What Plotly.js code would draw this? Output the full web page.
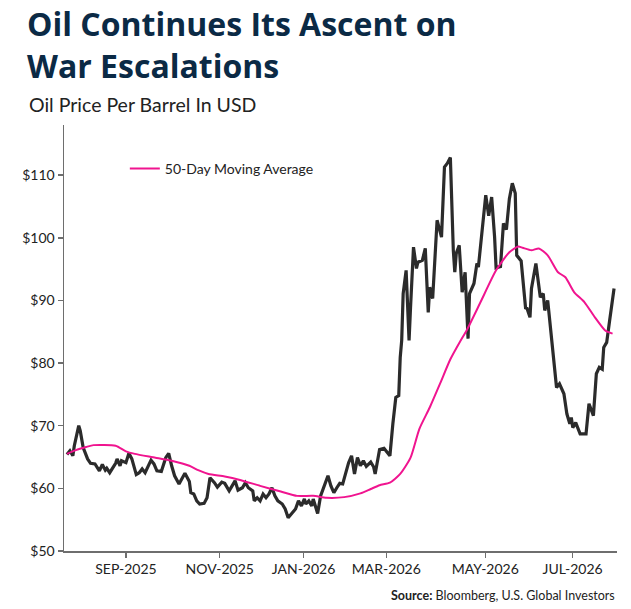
<!DOCTYPE html>
<html>
<head>
<meta charset="utf-8">
<script src="https://cdn.plot.ly/plotly-3.0.1.min.js"></script>
<style>
  html, body { margin: 0; padding: 0; background: #ffffff; }
  #chart { width: 631px; height: 609px; }
</style>
</head>
<body>
<div id="chart"></div>
<script>
// Daily oil price (USD per barrel)
const priceDates = [
  '2025-07-23','2025-07-25','2025-07-27','2025-07-28','2025-07-31','2025-08-01','2025-08-03','2025-08-06','2025-08-08','2025-08-11',
  '2025-08-14','2025-08-16','2025-08-18','2025-08-19','2025-08-21','2025-08-23','2025-08-25','2025-08-26','2025-08-28','2025-08-29',
  '2025-09-01','2025-09-03','2025-09-05','2025-09-08','2025-09-10','2025-09-12','2025-09-14','2025-09-18','2025-09-20','2025-09-22',
  '2025-09-25','2025-09-28','2025-09-30','2025-10-02','2025-10-04','2025-10-07','2025-10-09','2025-10-11','2025-10-14','2025-10-15',
  '2025-10-17','2025-10-19','2025-10-21','2025-10-24','2025-10-26','2025-10-28','2025-10-31','2025-11-02','2025-11-05','2025-11-07',
  '2025-11-10','2025-11-12','2025-11-14','2025-11-16','2025-11-19','2025-11-21','2025-11-23','2025-11-26','2025-11-27','2025-11-29',
  '2025-12-01','2025-12-03','2025-12-05','2025-12-07','2025-12-09','2025-12-11','2025-12-13','2025-12-16','2025-12-18','2025-12-20',
  '2025-12-23','2025-12-25','2025-12-27','2025-12-29','2025-12-31','2026-01-01','2026-01-03','2026-01-05','2026-01-06','2026-01-09',
  '2026-01-11','2026-01-13','2026-01-15','2026-01-16','2026-01-18','2026-01-20','2026-01-22','2026-01-24','2026-01-26','2026-01-28',
  '2026-01-30','2026-02-01','2026-02-03','2026-02-05','2026-02-07','2026-02-09','2026-02-11','2026-02-14','2026-02-16','2026-02-17',
  '2026-02-20','2026-02-23','2026-02-27','2026-03-01','2026-03-03','2026-03-05','2026-03-06','2026-03-07','2026-03-08','2026-03-10',
  '2026-03-12','2026-03-13','2026-03-15','2026-03-17','2026-03-18','2026-03-21','2026-03-23','2026-03-25','2026-03-26','2026-03-28',
  '2026-03-29','2026-03-31','2026-04-03','2026-04-05','2026-04-07','2026-04-09','2026-04-11','2026-04-12','2026-04-13','2026-04-15',
  '2026-04-17','2026-04-19','2026-04-21','2026-04-22','2026-04-25','2026-04-27','2026-04-28','2026-04-30','2026-05-03','2026-05-05',
  '2026-05-07','2026-05-09','2026-05-10','2026-05-13','2026-05-15','2026-05-17','2026-05-19','2026-05-21','2026-05-23','2026-05-24',
  '2026-05-27','2026-05-30','2026-05-31','2026-06-02','2026-06-03','2026-06-06','2026-06-09','2026-06-11','2026-06-12','2026-06-14',
  '2026-06-16','2026-06-18','2026-06-20','2026-06-22','2026-06-25','2026-06-27','2026-06-29','2026-06-30','2026-07-01','2026-07-03',
  '2026-07-06','2026-07-10','2026-07-12','2026-07-15','2026-07-17','2026-07-19','2026-07-21','2026-07-22','2026-07-24','2026-07-26',
  '2026-07-29'
];
const priceValues = [
  65.4, 66.0, 65.2, 66.8, 70.0, 69.2, 66.5, 64.7, 64.0, 63.9,
  62.8, 63.8, 62.9, 63.2, 62.5, 63.3, 64.0, 64.7, 63.6, 64.4,
  64.1, 65.6, 64.7, 62.2, 62.5, 63.1, 62.5, 64.5, 63.9, 62.8,
  62.7, 64.9, 65.6, 63.6, 62.0, 60.7, 61.5, 62.4, 61.1, 59.3,
  59.1, 58.0, 57.5, 57.6, 58.5, 61.7, 60.9, 60.2, 61.0, 60.8,
  59.6, 60.4, 61.2, 59.7, 60.1, 60.9, 60.1, 59.6, 58.0, 58.5,
  58.0, 59.1, 58.5, 59.1, 60.1, 58.8, 58.0, 57.5, 56.7, 55.3,
  56.1, 56.7, 58.0, 57.2, 58.3, 57.5, 58.0, 57.2, 58.3, 56.0,
  58.8, 60.1, 61.2, 62.0, 60.4, 59.3, 60.1, 60.8, 60.7, 62.3,
  64.1, 65.2, 62.3, 64.9, 63.6, 64.4, 63.5, 64.2, 63.4, 62.3,
  66.2, 66.4, 65.2, 70.3, 74.5, 74.8, 80.9, 83.6, 91.1, 94.8,
  83.6, 88.9, 98.5, 95.1, 96.1, 96.4, 98.3, 88.1, 92.1, 90.3,
  95.3, 102.8, 100.1, 111.3, 111.9, 112.8, 98.0, 94.5, 97.5, 98.8,
  91.3, 94.5, 83.9, 91.1, 92.7, 95.9, 95.3, 100.1, 106.8, 103.5,
  106.5, 100.1, 95.2, 95.4, 102.3, 101.3, 106.2, 108.7, 107.1, 97.2,
  96.3, 88.8, 88.7, 87.3, 91.9, 95.9, 90.5, 91.1, 88.4, 90.0,
  85.7, 80.4, 76.1, 76.7, 75.1, 71.9, 70.3, 71.3, 69.7, 70.5,
  68.7, 68.7, 73.5, 71.6, 78.3, 79.3, 79.0, 82.5, 83.3, 86.8,
  91.9
];

// 50-day moving average
const maDates = [
  '2025-07-23','2025-07-29','2025-08-05','2025-08-10','2025-08-25','2025-09-01','2025-09-07','2025-09-21','2025-10-02','2025-10-14',
  '2025-10-20','2025-10-27','2025-11-07','2025-11-18','2025-12-01','2025-12-15','2025-12-26','2026-01-06','2026-01-15','2026-01-27',
  '2026-02-07','2026-02-14','2026-02-20','2026-02-27','2026-03-06','2026-03-13','2026-03-19','2026-03-26','2026-04-02','2026-04-09',
  '2026-04-16','2026-04-20','2026-04-29','2026-05-10','2026-05-19','2026-05-25','2026-05-28','2026-06-03','2026-06-08','2026-06-14',
  '2026-06-21','2026-06-26','2026-07-02','2026-07-09','2026-07-16','2026-07-23','2026-07-28'
];
const maValues = [
  65.5, 66.1, 66.6, 66.9, 66.8, 65.9, 65.5, 64.9, 64.4, 63.6,
  62.9, 62.3, 61.9, 61.3, 60.4, 59.5, 58.8, 58.8, 58.5, 58.6,
  59.2, 59.9, 60.5, 60.9, 62.3, 64.9, 69.5, 72.9, 76.7, 80.6,
  83.6, 85.2, 89.5, 94.8, 97.7, 98.6, 98.4, 98.0, 98.3, 97.2,
  94.5, 93.7, 91.3, 89.7, 87.3, 85.2, 84.7
];

// Axis ticks
const xTickDates = ['2025-09-01','2025-11-03 14:00','2025-12-30 10:00','2026-02-24 14:00','2026-05-02 17:00','2026-06-30 22:00'];
const xTickLabels = ['SEP-2025','NOV-2025','JAN-2026','MAR-2026','MAY-2026','JUL-2026'];
const yTickValues = [50, 60, 70, 80, 90, 100, 110];
const yTickLabels = ['$50', '$60', '$70', '$80', '$90', '$100', '$110'];

const FONT = 'Lato, "Open Sans", Arial, sans-serif';
const TITLE_FONT = '"Open Sans", Lato, Arial, sans-serif';

const traces = [
  {
    type: 'scatter', mode: 'lines', name: 'Oil Price',
    x: priceDates, y: priceValues,
    line: { color: '#2b2b2b', width: 3.2 },
    showlegend: false
  },
  {
    type: 'scatter', mode: 'lines', name: '50-Day Moving Average',
    x: maDates, y: maValues,
    line: { color: '#f0148f', width: 2, shape: 'spline', smoothing: 0.6 },
    showlegend: true
  }
];

const layout = {
  width: 631, height: 609,
  paper_bgcolor: '#ffffff', plot_bgcolor: '#ffffff',
  margin: { l: 64, r: 14, t: 125, b: 58, pad: 0 },
  font: { family: FONT, color: '#222222', size: 14 },
  title: {
    text: '<b>Oil Continues Its Ascent on<br>War Escalations</b>',
    font: { family: TITLE_FONT, size: 32, color: '#0b2a45', weight: 800 },
    x: 27 / 631, xref: 'container', xanchor: 'left',
    y: 1 - 36 / 609, yref: 'container', yanchor: 'top',
    pad: { t: 0, b: 0, l: 0, r: 0 }
  },
  xaxis: {
    type: 'date',
    range: ['2025-07-21', '2026-07-31'],
    tickmode: 'array', tickvals: xTickDates, ticktext: xTickLabels,
    showgrid: false, zeroline: false,
    showline: true, linecolor: '#6e6e6e', linewidth: 1.5,
    ticks: 'outside', ticklen: 5, tickwidth: 1.5, tickcolor: '#6e6e6e',
    tickfont: { family: FONT, size: 14, color: '#222222' }
  },
  yaxis: {
    range: [50, 118],
    tickmode: 'array', tickvals: yTickValues, ticktext: yTickLabels,
    showgrid: false, zeroline: false,
    showline: true, linecolor: '#6e6e6e', linewidth: 1.5,
    ticks: 'outside', ticklen: 5, tickwidth: 1.5, tickcolor: '#6e6e6e',
    tickfont: { family: FONT, size: 14, color: '#222222' }
  },
  legend: {
    x: 0.11, y: 0.897, xanchor: 'left', yanchor: 'middle',
    bgcolor: 'rgba(0,0,0,0)', borderwidth: 0,
    font: { family: FONT, size: 14, color: '#222222' }
  },
  annotations: [
    {
      text: 'Oil Price Per Barrel In USD',
      xref: 'paper', yref: 'paper',
      x: (27 - 64) / 553, y: (551 - 104) / 426,
      xanchor: 'left', yanchor: 'middle', showarrow: false,
      font: { family: FONT, size: 19.5, color: '#222222' }
    },
    {
      text: '<b>Source:</b> Bloomberg, U.S. Global Investors',
      xref: 'paper', yref: 'paper',
      x: 1, y: (551 - 595) / 426,
      xanchor: 'right', yanchor: 'middle', showarrow: false,
      font: { family: FONT, size: 12.5, color: '#222222' }
    }
  ],
  hovermode: false
};

Plotly.newPlot('chart', traces, layout, { displayModeBar: false, staticPlot: true });
</script>
</body>
</html>
